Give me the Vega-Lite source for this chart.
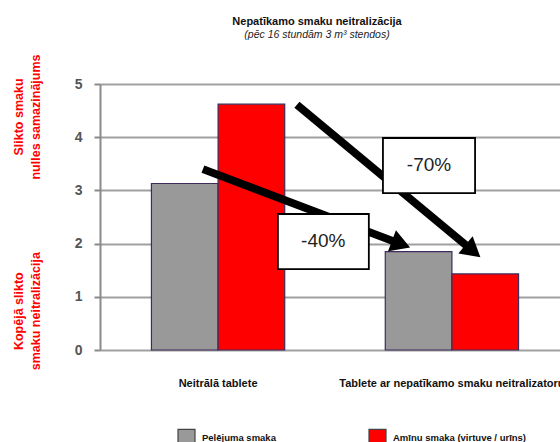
{
  "$schema": "https://vega.github.io/schema/vega-lite/v6.json",
  "width": 470,
  "height": 266,
  "autosize": "none",
  "padding": {"left": 100, "top": 84, "right": 0, "bottom": 92},
  "background": "white",
  "config": {"font": "Liberation Sans", "view": {"stroke": null}},
  "title": {
    "text": "Nepatīkamo smaku neitralizācija",
    "subtitle": "(pēc 16 stundām 3 m³ stendos)",
    "fontSize": 11,
    "fontWeight": "bold",
    "color": "#111",
    "subtitleFontSize": 10.5,
    "subtitleFontStyle": "italic",
    "subtitleColor": "#222",
    "subtitlePadding": 3,
    "anchor": "middle",
    "frame": "group",
    "dx": -18,
    "offset": 14
  },
  "datasets": {
    "bars": [
      {"tablete": "Neitrālā tablete", "smaka": "Pelējuma smaka", "vertiba": 3.13},
      {"tablete": "Neitrālā tablete", "smaka": "Amīnu smaka (virtuve / urīns)", "vertiba": 4.62},
      {"tablete": "Tablete ar nepatīkamo smaku neitralizatoru", "smaka": "Pelējuma smaka", "vertiba": 1.85},
      {"tablete": "Tablete ar nepatīkamo smaku neitralizatoru", "smaka": "Amīnu smaka (virtuve / urīns)", "vertiba": 1.43}
    ],
    "lines": [
      {"arrow": "a70", "xq": 0.838, "y": 4.61, "o": 0},
      {"arrow": "a70", "xq": 1.587, "y": 1.86, "o": 1},
      {"arrow": "a40", "xq": 0.438, "y": 3.40, "o": 0},
      {"arrow": "a40", "xq": 1.281, "y": 1.99, "o": 1}
    ],
    "heads": [
      {"arrow": "a70", "xq": 1.587, "y": 1.86},
      {"arrow": "a40", "xq": 1.281, "y": 1.99}
    ],
    "boxes": [
      {"label": "-70%", "xq": 1.204, "xq2": 1.596, "y": 3.985, "y2": 2.95, "xc": 1.40, "yc": 3.47},
      {"label": "-40%", "xq": 0.757, "xq2": 1.144, "y": 2.556, "y2": 1.52, "xc": 0.95, "yc": 2.04}
    ],
    "ylabels": [
      {"label": ["Slikto smaku", "nulles samazinājums"], "xq": -0.345, "y": 4.38},
      {"label": ["Kopējā slikto", "smaku neitralizācija"], "xq": -0.345, "y": 0.73}
    ]
  },
  "layer": [
    {
      "data": {"name": "bars"},
      "mark": {"type": "bar", "stroke": "#3d2b5c", "strokeWidth": 1.2},
      "encoding": {
        "x": {
          "field": "tablete", "type": "nominal",
          "sort": ["Neitrālā tablete", "Tablete ar nepatīkamo smaku neitralizatoru"],
          "scale": {"paddingInner": 0.43, "paddingOuter": 0.22},
          "axis": {"title": null, "ticks": false, "domain": false, "labelFontSize": 11, "labelFontWeight": "bold", "labelColor": "#111", "labelPadding": 27, "labelAngle": 0, "labelLimit": 400}
        },
        "xOffset": {
          "field": "smaka", "type": "nominal",
          "sort": ["Pelējuma smaka", "Amīnu smaka (virtuve / urīns)"],
          "scale": {"paddingInner": 0, "paddingOuter": 0}
        },
        "y": {
          "field": "vertiba", "type": "quantitative",
          "scale": {"domain": [0, 5], "nice": false},
          "axis": {"title": null, "values": [0, 1, 2, 3, 4, 5], "grid": true, "gridColor": "#a0a0a0", "gridWidth": 2, "domainColor": "#8a8a8a", "domainWidth": 2, "tickColor": "#8a8a8a", "tickWidth": 2, "tickSize": 6, "labelFontSize": 14, "labelFontWeight": "bold", "labelColor": "#555", "labelPadding": 12}
        },
        "color": {
          "field": "smaka", "type": "nominal",
          "sort": ["Pelējuma smaka", "Amīnu smaka (virtuve / urīns)"],
          "scale": {"range": ["#999999", "#ff0000"]},
          "legend": {"orient": "none", "legendX": 77, "legendY": 344, "direction": "horizontal", "title": null, "symbolType": "square", "symbolSize": 289, "symbolStrokeColor": "#444", "symbolStrokeWidth": 1.2, "symbolOpacity": 1, "labelFontSize": 9.5, "labelFontWeight": "bold", "labelColor": "#111", "columnPadding": 90, "labelOffset": 6, "padding": 0, "labelLimit": 300}
        }
      }
    },
    {
      "layer": [
        {
          "data": {"name": "lines"},
          "mark": {"type": "line", "color": "black", "strokeWidth": 8, "strokeCap": "butt"},
          "encoding": {
            "x": {"field": "xq", "type": "quantitative", "scale": {"domain": [0, 2], "nice": false, "zero": false}, "axis": null},
            "y": {"field": "y", "type": "quantitative"},
            "detail": {"field": "arrow"},
            "order": {"field": "o"}
          }
        },
        {
          "data": {"name": "heads"},
          "transform": [{"filter": "datum.arrow === 'a70'"}],
          "mark": {"type": "point", "shape": "triangle-up", "filled": true, "color": "black", "opacity": 1, "size": 500, "angle": 129.7},
          "encoding": {
            "x": {"field": "xq", "type": "quantitative", "scale": {"domain": [0, 2], "nice": false, "zero": false}, "axis": null},
            "y": {"field": "y", "type": "quantitative"}
          }
        },
        {
          "data": {"name": "heads"},
          "transform": [{"filter": "datum.arrow === 'a40'"}],
          "mark": {"type": "point", "shape": "triangle-up", "filled": true, "color": "black", "opacity": 1, "size": 500, "angle": 110.7},
          "encoding": {
            "x": {"field": "xq", "type": "quantitative", "scale": {"domain": [0, 2], "nice": false, "zero": false}, "axis": null},
            "y": {"field": "y", "type": "quantitative"}
          }
        },
        {
          "data": {"name": "boxes"},
          "mark": {"type": "rect", "fill": "white", "stroke": "black", "strokeWidth": 1.8},
          "encoding": {
            "x": {"field": "xq", "type": "quantitative", "scale": {"domain": [0, 2], "nice": false, "zero": false}, "axis": null},
            "x2": {"field": "xq2"},
            "y": {"field": "y", "type": "quantitative"},
            "y2": {"field": "y2"}
          }
        },
        {
          "data": {"name": "boxes"},
          "mark": {"type": "text", "fontSize": 19, "color": "#222", "align": "center", "baseline": "middle"},
          "encoding": {
            "x": {"field": "xc", "type": "quantitative", "scale": {"domain": [0, 2], "nice": false, "zero": false}, "axis": null},
            "y": {"field": "yc", "type": "quantitative"},
            "text": {"field": "label"}
          }
        },
        {
          "data": {"name": "ylabels"},
          "mark": {"type": "text", "fontSize": 12.5, "fontWeight": "bold", "color": "#ff0000", "angle": 270, "align": "center", "baseline": "middle", "lineHeight": 17},
          "encoding": {
            "x": {"field": "xq", "type": "quantitative", "scale": {"domain": [0, 2], "nice": false, "zero": false}, "axis": null},
            "y": {"field": "y", "type": "quantitative"},
            "text": {"field": "label"}
          }
        }
      ]
    }
  ],
  "resolve": {"scale": {"x": "independent"}}
}
